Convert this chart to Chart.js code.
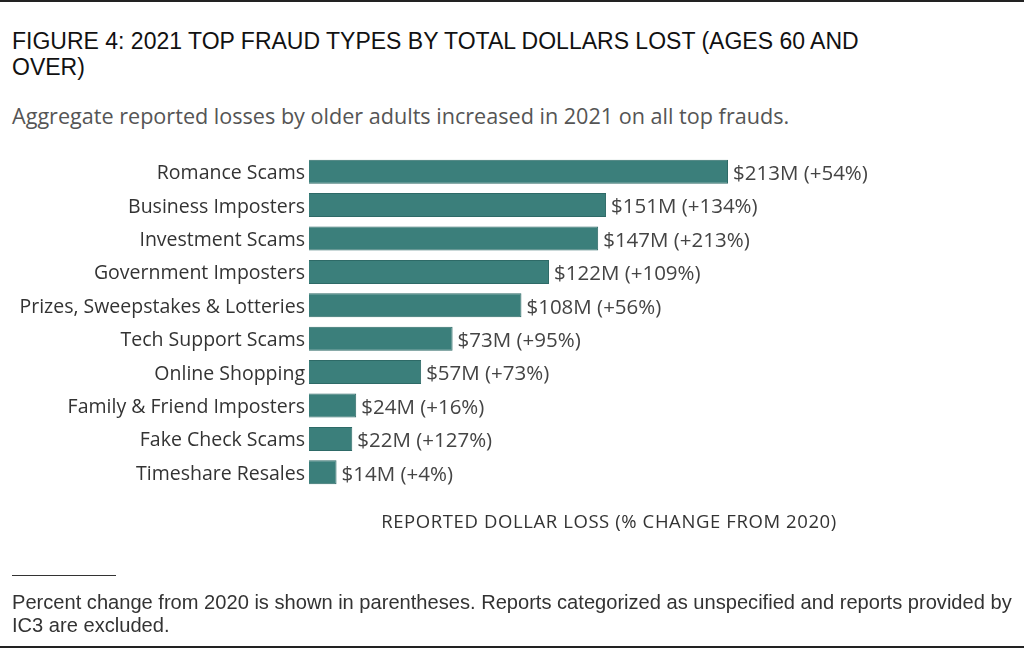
<!DOCTYPE html>
<html><head><meta charset="utf-8">
<script src="https://cdn.jsdelivr.net/npm/chart.js@4"></script>
<style>
html,body{margin:0;padding:0;background:#fff;}
#wrap{position:relative;width:1024px;height:649px;overflow:hidden;background:#fff;}
#c{position:absolute;left:0;top:0;}
.t{position:absolute;white-space:nowrap;}
#topline{position:absolute;left:0;top:0;width:1024px;height:2px;background:#222;}
#botline{position:absolute;left:0;top:646px;width:1024px;height:2px;background:#222;}
#title{left:12px;top:28px;font-family:"Liberation Sans Narrow","Liberation Sans",sans-serif;font-size:23px;line-height:26px;color:#111;}
#sub{left:12px;top:101px;font-family:"Open Sans",sans-serif;font-size:21.6px;color:#555;}
#xt{left:609px;top:508px;transform:translateX(-50%);font-family:"Open Sans",sans-serif;font-size:18.5px;letter-spacing:0.6px;color:#333;}
#rule{position:absolute;left:12px;top:575px;width:104px;height:1px;background:#333;}
#foot{left:12px;top:591px;font-family:"Liberation Sans",sans-serif;font-size:20.1px;line-height:23px;color:#333;}
</style></head>
<body><div id="wrap">
<div id="topline"></div>
<div class="t" id="title">FIGURE 4: 2021 TOP FRAUD TYPES BY TOTAL DOLLARS LOST (AGES 60 AND<br>OVER)</div>
<div class="t" id="sub">Aggregate reported losses by older adults increased in 2021 on all top frauds.</div>
<canvas id="c" width="1024" height="649"></canvas>
<div class="t" id="xt">REPORTED DOLLAR LOSS (% CHANGE FROM 2020)</div>
<div id="rule"></div>
<div class="t" id="foot">Percent change from 2020 is shown in parentheses. Reports categorized as unspecified and reports provided by<br>IC3 are excluded.</div>
<div id="botline"></div>
</div>
<script>
const categories = ["Romance Scams","Business Imposters","Investment Scams","Government Imposters","Prizes, Sweepstakes & Lotteries","Tech Support Scams","Online Shopping","Family & Friend Imposters","Fake Check Scams","Timeshare Resales"];
const lossMillions = [213,151,147,122,108,73,57,24,22,14];
const pctChange = [54,134,213,109,56,95,73,16,127,4];
const xMax = 250;

const valueLabels = {
  id:'valueLabels',
  afterDatasetsDraw(chart){
    const ctx = chart.ctx;
    const meta = chart.getDatasetMeta(0);
    ctx.save();
    ctx.font = '20.5px "Open Sans", sans-serif';
    ctx.fillStyle = '#444';
    ctx.textBaseline = 'middle';
    ctx.textAlign = 'left';
    meta.data.forEach((el,i)=>{
      ctx.fillText('$'+lossMillions[i]+'M (+'+pctChange[i]+'%)', el.x+5, el.y+2.5);
    });
    ctx.restore();
  }
};

new Chart(document.getElementById('c'),{
  type:'bar',
  data:{labels:categories,datasets:[{data:lossMillions,backgroundColor:'#3b7f7b',borderColor:'#2e6a67',borderWidth:1,barPercentage:0.72,categoryPercentage:1}]},
  options:{
    indexAxis:'y',responsive:false,animation:false,
    layout:{padding:{left:0,top:155,bottom:160,right:1024-(309+xMax*419/213)}},
    plugins:{legend:{display:false},tooltip:{enabled:false}},
    scales:{
      x:{display:false,min:0,max:xMax},
      y:{grid:{display:false,drawTicks:false},border:{display:false},
         ticks:{padding:4,labelOffset:2,color:'#333',font:{family:'"Open Sans", sans-serif',size:19.5}},
         afterFit(s){s.width=309;}}
    }
  },
  plugins:[valueLabels]
});
</script>
</body></html>
